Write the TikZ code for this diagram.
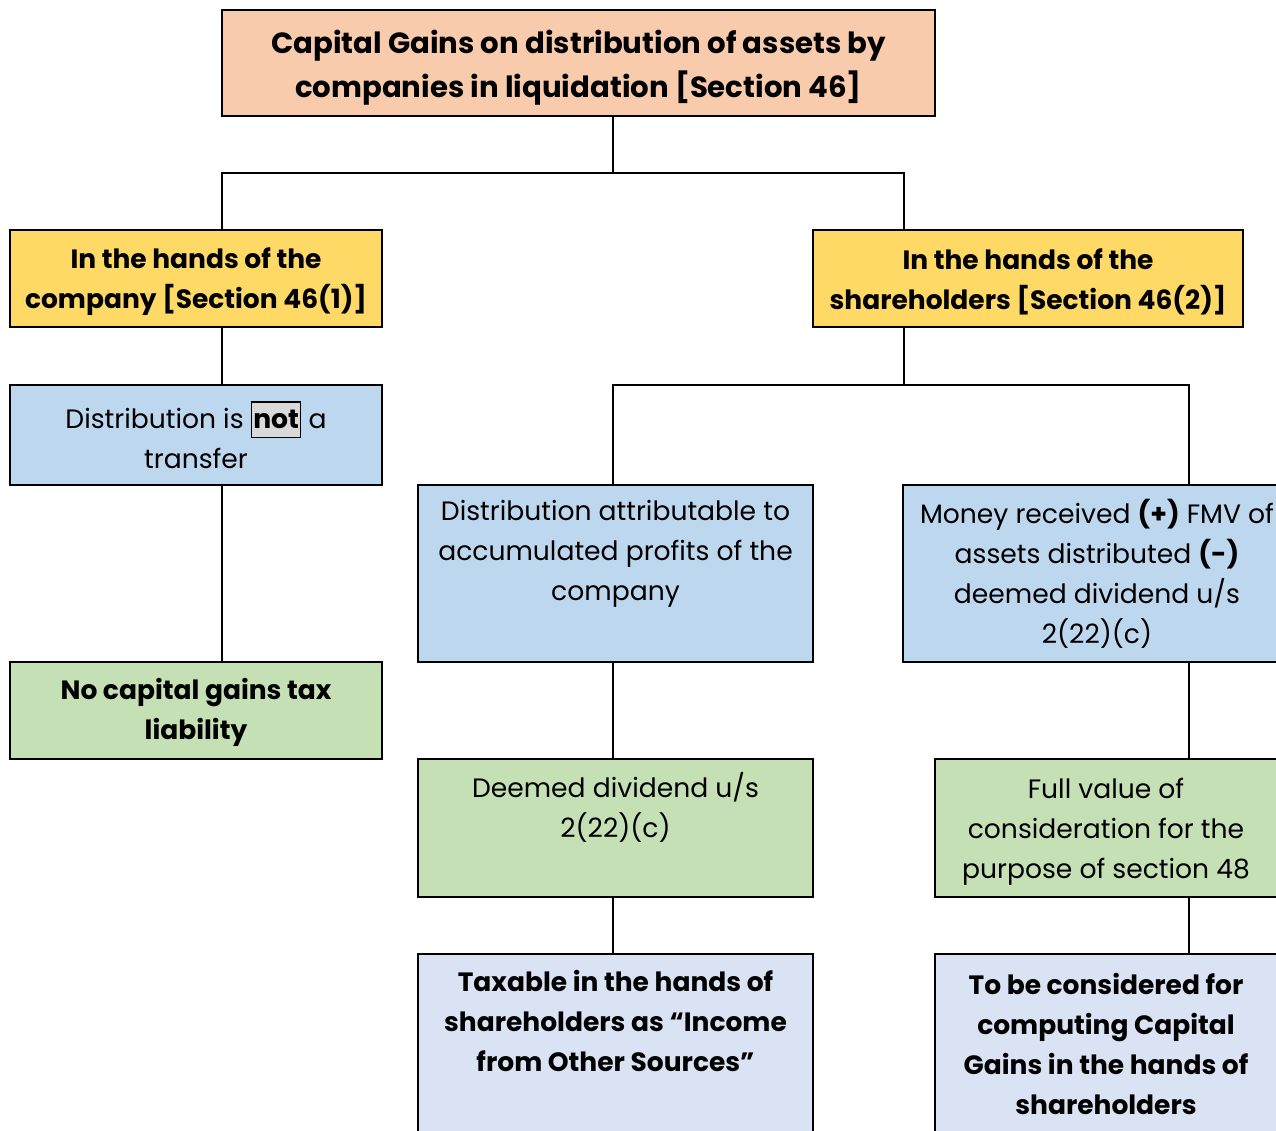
\documentclass[tikz,border=0pt]{standalone}
\usepackage{fontspec}
\setmainfont{Poppins}
\usepackage{tikz}
\usepackage{xcolor}
\definecolor{titlepeach}{RGB}{248,203,173}
\definecolor{handyellow}{RGB}{255,217,102}
\definecolor{stepblue}{RGB}{189,215,238}
\definecolor{resgreen}{RGB}{197,224,180}
\definecolor{taxblue}{RGB}{218,227,243}
\definecolor{notgray}{RGB}{217,217,217}
\tikzset{
  basebox/.style={rectangle,draw=black,line width=2pt,align=center,inner sep=0pt,
    font=\fontsize{26.6pt}{40pt}\selectfont},
  titlenode/.style={basebox,fill=titlepeach,font=\fontsize{29.2pt}{44pt}\selectfont\bfseries},
  handnode/.style={basebox,fill=handyellow,font=\fontsize{26.5pt}{40pt}\selectfont\bfseries},
  stepnode/.style={basebox,fill=stepblue},
  resnode/.style={basebox,fill=resgreen},
  boldresnode/.style={resnode,font=\fontsize{26.5pt}{40pt}\selectfont\bfseries},
  taxnode/.style={basebox,fill=taxblue,font=\fontsize{26.5pt}{40pt}\selectfont\bfseries},
  link/.style={draw=black,line width=2pt}
}
\newcommand{\notbox}[1]{{\setlength{\fboxsep}{1pt}\setlength{\fboxrule}{1.5pt}%
  \fcolorbox{black}{notgray}{\textbf{#1}\vphantom{Ag(}}}}
\newcommand{\padline}{\\\mbox{}\vphantom{p}}
\newcommand{\lift}[1]{\rule{0pt}{#1}}

\begin{document}
\begin{tikzpicture}[x=1pt,y=-1pt]
  \clip (0,0) rectangle (1276,1130);
  \useasboundingbox (0,0) rectangle (1276,1130);
  \fill[white] (0,0) rectangle (1276,1130);

  % x positions of the connector drops
  \coordinate (xl) at (222,0);
  \coordinate (xm) at (613,0);
  \coordinate (xr) at (904,0);
  \coordinate (xrr) at (1189,0);

  \node[titlenode,minimum width=713pt,minimum height=106pt] (title) at (578.5,63)
    {\lift{32pt}Capital Gains on distribution of assets by\\companies in liquidation [Section 46]};
  \node[handnode,minimum width=372pt,minimum height=97pt] (hc) at (196,278.5)
    {\lift{27pt}In the hands of the\\company [Section 46(1)]};
  \node[handnode,minimum width=430pt,minimum height=97pt] (hs) at (1028,278.5)
    {\lift{27pt}In the hands of the\\shareholders [Section 46(2)]};
  \node[stepnode,minimum width=372pt,minimum height=100pt] (nt) at (196,435)
    {Distribution is \notbox{not} a\\transfer};
  \node[boldresnode,minimum width=372pt,minimum height=97pt] (ncg) at (196,710.5)
    {\lift{25pt}No capital gains tax\\liability};
  \node[stepnode,minimum width=395pt,minimum height=177pt] (da) at (615.5,573.5)
    {Distribution attributable to\\accumulated profits of the\\company\padline};
  \node[stepnode,minimum width=388pt,minimum height=177pt] (mr) at (1097,573.5)
    {Money received \textbf{(+)} FMV of\\assets distributed \textbf{(-)}\\deemed dividend u/s\\2(22)(c)};
  \node[resnode,minimum width=395pt,minimum height=138pt] (dd) at (615.5,828)
    {Deemed dividend u/s\\2(22)(c)\padline};
  \node[resnode,minimum width=342pt,minimum height=138pt] (fv) at (1106,828)
    {\lift{28pt}Full value of\\consideration for the\\purpose of section 48};
  \node[taxnode,minimum width=395pt,minimum height=180pt] (tx) at (615.5,1044)
    {Taxable in the hands of\\shareholders as “Income\\from Other Sources”\padline};
  \node[taxnode,minimum width=342pt,minimum height=180pt] (tbc) at (1106,1044)
    {To be considered for\\computing Capital\\Gains in the hands of\\shareholders};

  \coordinate (bus1) at (613,173);
  \coordinate (bus2) at (904,385);

  \draw[link] (title.south -| xm) -- (bus1);
  \draw[link] (hc.north -| xl) |- (bus1) -| (hs.north -| xr);
  \draw[link] (hc.south -| xl) -- (nt.north -| xl);
  \draw[link] (nt.south -| xl) -- (ncg.north -| xl);
  \draw[link] (hs.south -| xr) -- (bus2);
  \draw[link] (da.north -| xm) |- (bus2) -| (mr.north -| xrr);
  \draw[link] (da.south -| xm) -- (dd.north -| xm);
  \draw[link] (dd.south -| xm) -- (tx.north -| xm);
  \draw[link] (mr.south -| xrr) -- (fv.north -| xrr);
  \draw[link] (fv.south -| xrr) -- (tbc.north -| xrr);
\end{tikzpicture}
\end{document}
